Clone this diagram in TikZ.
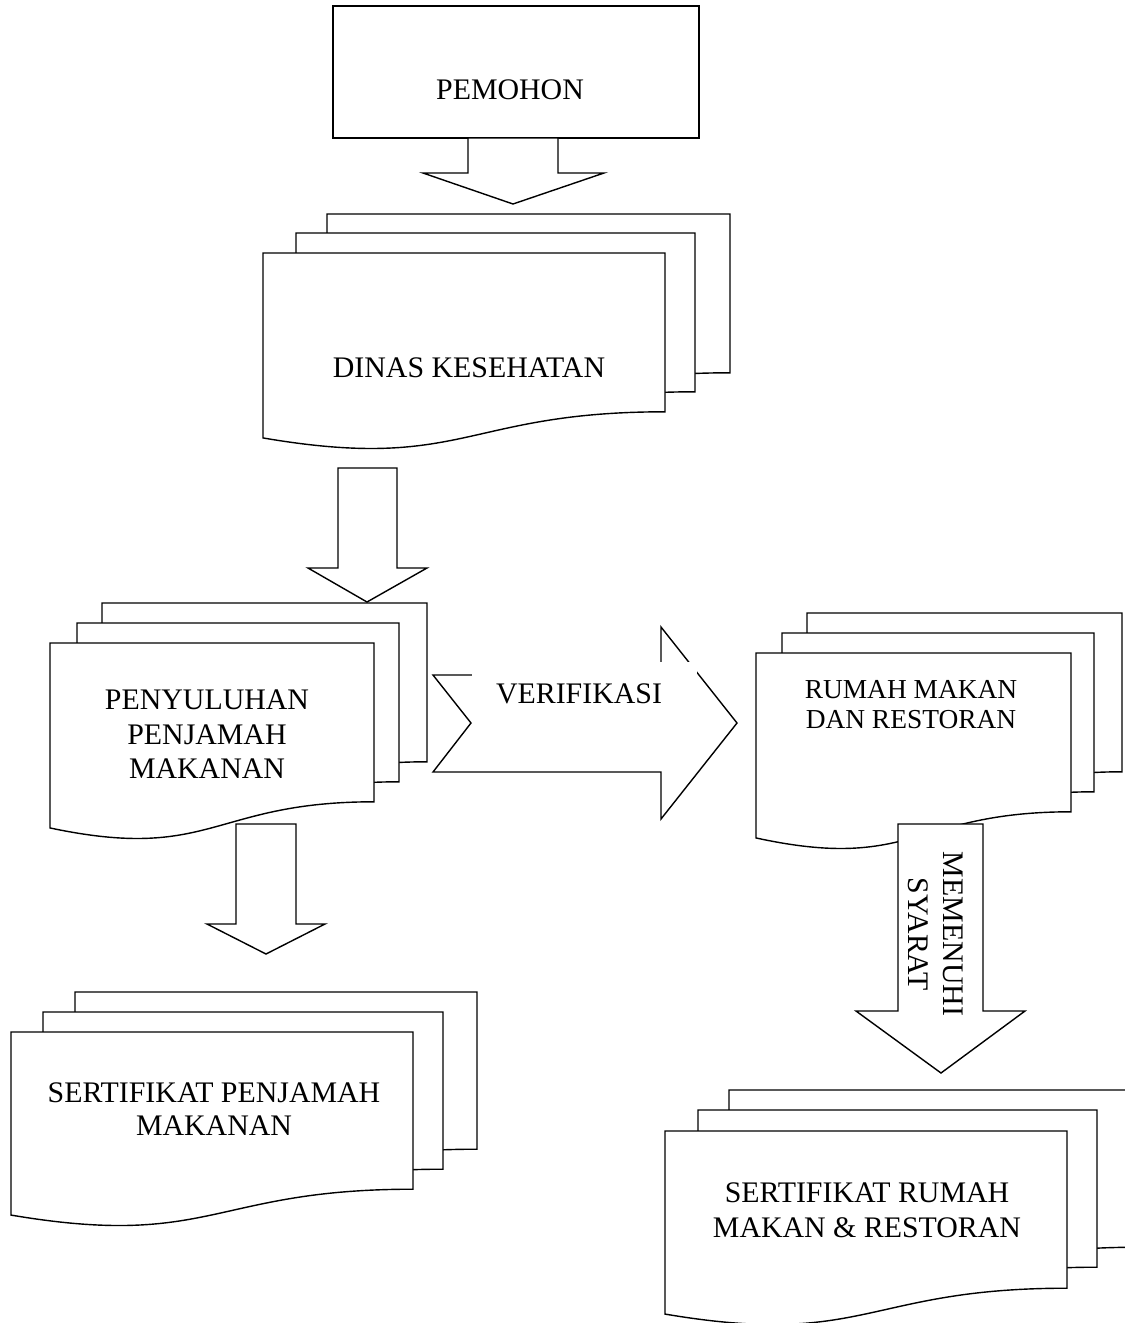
\documentclass[tikz,border=0pt]{standalone}
\usepackage{fontspec}
\setmainfont{Liberation Serif}
\tikzset{
  shape line/.style={draw=black, fill=white, line width=0.8pt, line join=miter},
  label text/.style={inner sep=0pt, align=center, font=\fontsize{17}{19.6}\selectfont},
}
\newcommand\docpage[4]{%
  \pgfmathsetmacro\dpyr{#2+0.802*#4}%
  \pgfmathsetmacro\dpyl{#2+0.934*#4}%
  \pgfmathsetmacro\dpyc{#2+1.1075*#4}%
  \pgfmathsetmacro\dpxm{(#1+#3)/2}%
  \path[shape line] (#1,#2) -- (#3,#2) -- (#3,\dpyr) .. controls (\dpxm,\dpyr) and (\dpxm,\dpyc) .. (#1,\dpyl) -- cycle;
}
\begin{document}
\begin{tikzpicture}[x=0.02cm,y=-0.02cm]
\clip (0,0) rectangle (1125,1323);
\fill[white] (0,0) rectangle (1125,1323);
% PEMOHON
\path[shape line] (333,6) rectangle (699,138);
\node[label text] (pemohon) at (510,90) {PEMOHON};
\path[shape line] (468,138) -- (558,138) -- (558,173) -- (604,173) -- (513,204) -- (423,173) -- (468,173) -- cycle;
% Dinas Kesehatan
\docpage{327}{214}{730}{198}
\docpage{296}{233}{695}{198}
\docpage{263}{253}{665}{198}
\node[label text] (dinas) at (469,368) {DINAS KESEHATAN};
\path[shape line] (338,468) -- (397,468) -- (397,568) -- (427,568) -- (367,602) -- (308,568) -- (338,568) -- cycle;
% Penyuluhan
\docpage{102}{603}{427}{198}
\docpage{77}{623}{399}{198}
\docpage{50}{643}{374}{198}
\node[label text] (penyuluhan) at (207,734.5) {PENYULUHAN\\PENJAMAH\\MAKANAN};
\path[shape line] (236,824) -- (296,824) -- (296,924) -- (325,924) -- (266,954) -- (207,924) -- (236,924) -- cycle;
% Sertifikat penjamah
\docpage{75}{992}{477}{196}
\docpage{43}{1012}{443}{196}
\docpage{11}{1032}{413}{196}
\node[label text, font=\fontsize{17}{18.9}\selectfont] (sertpj) at (214,1109) {SERTIFIKAT PENJAMAH\\MAKANAN};
% Verifikasi arrow
\path[shape line] (433,675) -- (661,675) -- (661,627) -- (737,723) -- (661,819) -- (661,772) -- (433,772) -- (471,723) -- cycle;
\fill[white] (472,662) rectangle (697,716);
\node[label text] (verif) at (579,693.5) {VERIFIKASI};
% Rumah makan
\docpage{807}{613}{1122}{198}
\docpage{782}{633}{1094}{198}
\docpage{756}{653}{1071}{198}
\node[label text, font=\fontsize{15.6}{17}\selectfont] (rumah) at (911,705) {RUMAH MAKAN\\DAN RESTORAN};
% Memenuhi syarat arrow
\path[shape line] (898,824) -- (983,824) -- (983,1011) -- (1025,1011) -- (941,1073) -- (856,1011) -- (898,1011) -- cycle;
\node[label text, rotate=-90, font=\fontsize{17}{19.8}\selectfont] (syarat) at (936,934) {MEMENUHI\\SYARAT};
% Sertifikat rumah makan
\docpage{729}{1090}{1140}{196}
\docpage{698}{1110}{1097}{196}
\docpage{665}{1131}{1067}{196}
\node[label text, font=\fontsize{17}{19.8}\selectfont] (sertrm) at (867,1210.5) {SERTIFIKAT RUMAH\\MAKAN \& RESTORAN};
\end{tikzpicture}
\end{document}
